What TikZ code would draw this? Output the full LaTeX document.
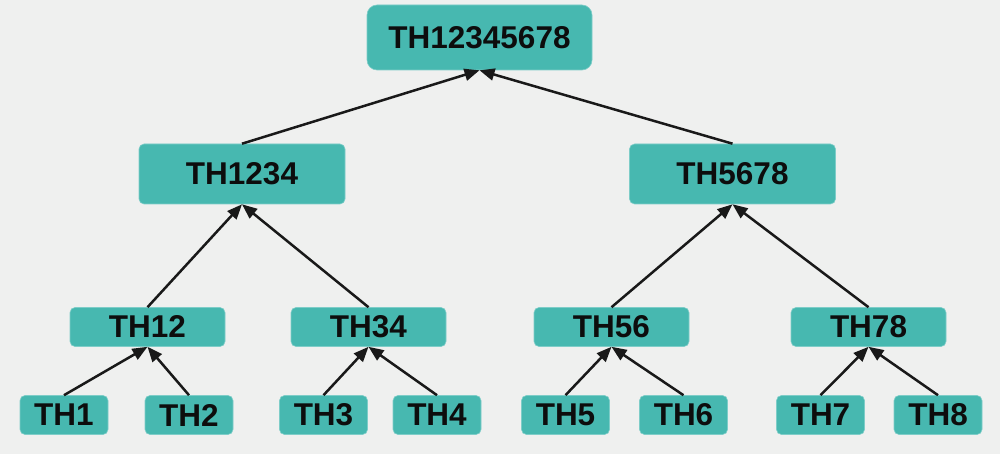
\documentclass[tikz,border=0pt]{standalone}
\usepackage{fontspec}
\setmainfont{Liberation Sans}
\usetikzlibrary{arrows.meta}
\definecolor{thteal}{HTML}{47B8B0}
\definecolor{thback}{HTML}{EFF0EF}
\begin{document}
\begin{tikzpicture}[x=1pt,y=-1pt,
		thbox/.style={fill=thteal,draw=thteal!70!white,line width=0.6pt,rounded corners=5pt,inner sep=0pt,
			text=black!95,font=\fontsize{31.5}{36}\selectfont\bfseries},
		leaf/.style={thbox,minimum width=88pt,minimum height=39pt},
		mid/.style={thbox,minimum width=155pt,minimum height=39pt},
		big/.style={thbox,minimum width=206pt,minimum height=60pt},
		root/.style={thbox,minimum width=225pt,minimum height=65pt,rounded corners=10pt},
		up/.style={line width=2.5pt,black!90,-{Triangle[length=15pt,width=12pt]}}]
		\fill[thback] (0,0) rectangle (1000,454);
		\useasboundingbox (0,0) rectangle (1000,454);
		
		\node[root] (th12345678) at (479.5,37.5) {TH12345678};
		
		\node[big] (th1234) at (242,174) {TH1234};
		\node[big] (th5678) at (732.5,174) {TH5678};
		
		\node[mid] (th12) at (147.5,327) {TH12};
		\node[mid] (th34) at (368.5,327) {TH34};
		\node[mid] (th56) at (611.5,327) {TH56};
		\node[mid] (th78) at (868.5,327) {TH78};
		
		\node[leaf] (th1) at (64,415) {TH1};
		\node[leaf] (th2) at (189,415) {TH2};
		\node[leaf] (th3) at (323.5,415) {TH3};
		\node[leaf] (th4) at (437,415) {TH4};
		\node[leaf] (th5) at (565.5,415) {TH5};
		\node[leaf] (th6) at (683.5,415) {TH6};
		\node[leaf] (th7) at (820.5,415) {TH7};
		\node[leaf] (th8) at (938,415) {TH8};
		
		\draw[up] (th1.north) to (th12.south); \draw[up] (th2.north) to (th12.south);
		\draw[up] (th3.north) to (th34.south); \draw[up] (th4.north) to (th34.south);
		\draw[up] (th5.north) to (th56.south); \draw[up] (th6.north) to (th56.south);
		\draw[up] (th7.north) to (th78.south); \draw[up] (th8.north) to (th78.south);
		
		\draw[up] (th12.north) to (th1234.south); \draw[up] (th34.north) to (th1234.south);
		\draw[up] (th56.north) to (th5678.south); \draw[up] (th78.north) to (th5678.south);
		
		\draw[up] (th1234.north) to (th12345678.south); \draw[up] (th5678.north) to (th12345678.south);
	\end{tikzpicture}
\end{document}
